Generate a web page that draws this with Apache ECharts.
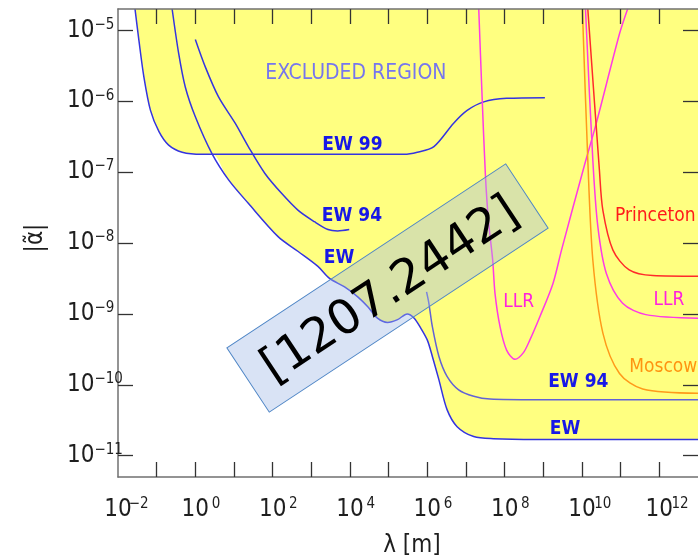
<!DOCTYPE html>
<html><head><meta charset="utf-8">
<script src="https://cdn.jsdelivr.net/npm/echarts@6/dist/echarts.min.js"></script>
<style>html,body{margin:0;padding:0;background:#fff}#c{width:698px;height:560px}</style>
</head><body><div id="c"></div>
<script>
// All values are log10 exponents: [log10(lambda / m), log10(|alpha|)]
const xLabelExps = [-2, 0, 2, 4, 6, 8, 10, 12];
const xTickExps = [-1, 0, 1, 2, 3, 4, 5, 6, 7, 8, 9, 10, 11, 12];
const yLabelExps = [-11, -10, -9, -8, -7, -6, -5];
const ew99 = [[-1.56,-4.70],[-1.46,-5.14],[-1.33,-5.66],[-1.16,-6.13],[-0.94,-6.43],[-0.69,-6.62],[-0.34,-6.72],[0.17,-6.75],[2.66,-6.75],[5.40,-6.75],[5.74,-6.72],[6.17,-6.64],[6.68,-6.31],[7.03,-6.13],[7.46,-6.01],[8.05,-5.96],[9.04,-5.95]];
const ew = [[-0.60,-4.70],[-0.43,-5.33],[-0.26,-5.80],[0.00,-6.22],[0.43,-6.74],[0.86,-7.11],[1.37,-7.44],[2.14,-7.91],[2.66,-8.12],[3.17,-8.33],[3.47,-8.50],[3.86,-8.62],[4.20,-8.76],[4.46,-8.90],[4.71,-9.06],[4.97,-9.12],[5.23,-9.08],[5.48,-9.00],[5.66,-9.06],[5.83,-9.20],[6.00,-9.37],[6.13,-9.60],[6.30,-9.93],[6.51,-10.35],[6.77,-10.59],[7.20,-10.73],[7.71,-10.76],[8.83,-10.77],[13.0,-10.77]];
const ew94Upper = [[0.00,-5.13],[0.26,-5.52],[0.60,-5.94],[1.03,-6.31],[1.37,-6.64],[1.80,-7.02],[2.23,-7.30],[2.66,-7.54],[3.08,-7.70],[3.43,-7.81],[3.68,-7.83],[3.98,-7.81]];
const ew94Lower = [[5.98,-8.69],[6.04,-8.85],[6.13,-9.18],[6.30,-9.60],[6.51,-9.88],[6.81,-10.07],[7.20,-10.16],[7.62,-10.20],[8.83,-10.21],[13.0,-10.21]];
const llrLeft = [[7.33,-4.70],[7.41,-5.85],[7.50,-7.02],[7.58,-7.68],[7.69,-8.24],[7.75,-8.71],[7.88,-9.18],[8.05,-9.51],[8.27,-9.64],[8.48,-9.55],[8.65,-9.37],[8.91,-9.04],[9.25,-8.57],[9.47,-8.10],[10.03,-6.97],[10.37,-6.31],[10.97,-5.05],[11.18,-4.70]];
const llrRight = [[10.09,-4.70],[10.28,-6.83],[10.41,-7.77],[10.63,-8.43],[11.05,-8.85],[11.65,-9.01],[13.0,-9.06]];
const princeton = [[10.15,-4.70],[10.45,-6.97],[10.54,-7.54],[10.80,-8.10],[11.22,-8.38],[11.83,-8.46],[13.0,-8.47]];
const moscow = [[10.01,-4.70],[10.15,-6.83],[10.28,-8.24],[10.54,-9.27],[10.97,-9.84],[11.57,-10.06],[13.0,-10.12]];

const crossX = 0.43; // where EW 99 and EW cross
const envelope = ew99.filter(p => p[0] < crossX).concat(ew.filter(p => p[0] >= crossX));

const NARROW = '"Liberation Sans Narrow","DejaVu Sans Condensed","Roboto Condensed",sans-serif';
const supTxt = v => (v < 0 ? '\u2212' + (-v) : String(v));

const chart = echarts.init(document.getElementById('c'));
const lineS = (data, color, w) => ({type:'line', data, smooth:0.3, showSymbol:false, symbol:'none',
  lineStyle:{color, width:w||1.5}, z:3, silent:true, animation:false});

const BLUE = '#3434e0';
const axisBase = (pos, showLine) => ({type:'value', position:pos, z:10,
  axisLine:{show:showLine, onZero:false, lineStyle:{color:'#707070', width:1.5}},
  splitLine:{show:false}});
chart.setOption({
  animation:false,
  grid:{left:118, top:9, width:585, height:468},
  xAxis:[Object.assign(axisBase('bottom', true), {min:-2, max:13,
    axisTick:{show:true, inside:true, length:15, customValues:xTickExps, lineStyle:{color:'#333', width:1.3}},
    axisLabel:{customValues:xLabelExps, margin:20, formatter:v => '{p|}{b|10}{s|' + supTxt(v) + '}',
      rich:{p:{width:14}, b:{fontSize:24, fontFamily:NARROW, color:'#1e1e1e', lineHeight:26},
            s:{fontSize:15, fontFamily:NARROW, color:'#1e1e1e', width:14, align:'left', verticalAlign:'top', lineHeight:26}}}
  }), Object.assign(axisBase('top', true), {min:-2, max:13,
    axisTick:{show:true, inside:true, length:15, customValues:xTickExps, lineStyle:{color:'#333', width:1.3}},
    axisLabel:{show:false}})],
  yAxis:[Object.assign(axisBase('left', true), {min:-11.3, max:-4.7,
    axisTick:{show:true, inside:true, length:15, customValues:yLabelExps, lineStyle:{color:'#333', width:1.3}},
    axisLabel:{customValues:yLabelExps, margin:51, align:'left', formatter:v => '{b|10}{s|' + supTxt(v) + '}',
      rich:{b:{fontSize:24, fontFamily:NARROW, color:'#1e1e1e', lineHeight:26},
            s:{fontSize:15, fontFamily:NARROW, color:'#1e1e1e', verticalAlign:'top', lineHeight:26}}}
  }), Object.assign(axisBase('right', false), {min:-11.3, max:-4.7,
    axisTick:{show:true, inside:true, length:15, customValues:yLabelExps, lineStyle:{color:'#333', width:1.3}},
    axisLabel:{show:false}})],
  series:[
    {type:'line', data:envelope, smooth:0.3, showSymbol:false, symbol:'none', lineStyle:{width:0, opacity:0},
      areaStyle:{color:'#ffff80', opacity:1, origin:'end'}, z:1, silent:true},
    lineS(ew99, BLUE), lineS(ew, BLUE), lineS(ew94Upper, BLUE), lineS(ew94Lower, '#6262d6'),
    lineS(llrLeft, '#ff3ae6'), lineS(moscow, '#ff9a1a'), lineS(llrRight, '#ff3ae6'), lineS(princeton, '#ff2a2a')
  ],
  graphic:[
    {type:'text', x:355.8, y:74, z:50, style:{text:'EXCLUDED REGION', font:'21px ' + NARROW, fill:'#7676ee', align:'center', verticalAlign:'middle'}},
    {type:'text', x:352.5, y:145, z:50, style:{text:'EW 99', font:'bold 19px ' + NARROW, fill:'#1818e6', align:'center', verticalAlign:'middle'}},
    {type:'text', x:352, y:216, z:50, style:{text:'EW 94', font:'bold 19px ' + NARROW, fill:'#1818e6', align:'center', verticalAlign:'middle'}},
    {type:'text', x:339, y:258, z:50, style:{text:'EW', font:'bold 19px ' + NARROW, fill:'#1818e6', align:'center', verticalAlign:'middle'}},
    {type:'text', x:578.3, y:382, z:50, style:{text:'EW 94', font:'bold 19px ' + NARROW, fill:'#1818e6', align:'center', verticalAlign:'middle'}},
    {type:'text', x:565, y:429, z:50, style:{text:'EW', font:'bold 19px ' + NARROW, fill:'#1818e6', align:'center', verticalAlign:'middle'}},
    {type:'text', x:518.7, y:302, z:50, style:{text:'LLR', font:'19px ' + NARROW, fill:'#ff22dd', align:'center', verticalAlign:'middle'}},
    {type:'text', x:669, y:300.5, z:50, style:{text:'LLR', font:'19px ' + NARROW, fill:'#ff22dd', align:'center', verticalAlign:'middle'}},
    {type:'text', x:615, y:216.5, z:50, style:{text:'Princeton', font:'19px ' + NARROW, fill:'#ff1a1a', align:'left', verticalAlign:'middle'}},
    {type:'text', x:629.3, y:367, z:50, style:{text:'Moscow', font:'19px ' + NARROW, fill:'#ff9410', align:'left', verticalAlign:'middle'}},
    {type:'text', x:36, y:238, rotation:Math.PI/2, z:50, style:{text:'|\u03b1\u0303|', font:'24px ' + NARROW, fill:'#1e1e1e', align:'center', verticalAlign:'middle'}},
    {type:'text', x:412, y:546, z:50, style:{text:'\u03bb [m]', font:'24px ' + NARROW, fill:'#1e1e1e', align:'center', verticalAlign:'middle'}},
    {type:'rect', x:387.5, y:288, rotation:33.4*Math.PI/180, z:100, shape:{x:-167, y:-38.5, width:334, height:77},
      style:{fill:'rgba(159,184,230,0.4)', stroke:'#4f86c6', lineWidth:1}},
    {type:'text', x:391, y:291, rotation:33.4*Math.PI/180, z:101,
      style:{text:'[1207.2442]', font:'48px "DejaVu Sans",sans-serif', fill:'#000', align:'center', verticalAlign:'middle'}}
  ]
});
</script></body></html>
